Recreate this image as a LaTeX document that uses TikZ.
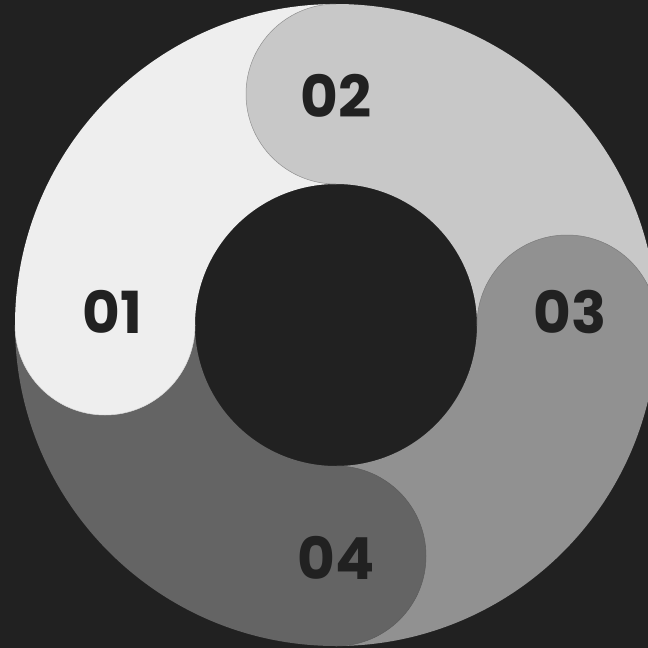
\documentclass[tikz,border=0pt]{standalone}
\usepackage{fontspec}
\setmainfont{Poppins}
\definecolor{bg}{HTML}{212121}
\definecolor{cA}{HTML}{EEEEEE}
\definecolor{cB}{HTML}{C8C8C8}
\definecolor{cC}{HTML}{919191}
\definecolor{cD}{HTML}{646464}
\tikzset{
  ringpart/.style={even odd rule},
  capedge/.style={line width=0.5pt},
  numlabel/.style={text=bg, font=\bfseries\fontsize{58}{58}\selectfont, inner sep=0pt, anchor=center}
}
\begin{document}
\begin{tikzpicture}[x=1pt,y=-1pt]
\useasboundingbox (0,0) rectangle (648,648);
\fill[bg] (0,0) rectangle (648,648);
\coordinate (c) at (336,325);
% quadrant bodies
\begin{scope}
\clip (0,0) rectangle (336,325);
\fill[cA, ringpart] (c) circle (321pt) (c) circle (141pt);
\end{scope}
\begin{scope}
\clip (336,0) rectangle (700,325);
\fill[cB, ringpart] (c) circle (321pt) (c) circle (141pt);
\end{scope}
\begin{scope}
\clip (336,325) rectangle (700,700);
\fill[cC, ringpart] (c) circle (321pt) (c) circle (141pt);
\end{scope}
\begin{scope}
\clip (0,325) rectangle (336,700);
\fill[cD, ringpart] (c) circle (321pt) (c) circle (141pt);
\end{scope}
% rounded caps
\fill[cA] (105,325) circle (90pt);
\fill[cB] (336,94) circle (90pt);
\fill[cC] (567,325) circle (90pt);
\fill[cD] (336,556) circle (90pt);
% cap edges, only where they overlap the neighbouring segment
\begin{scope}
\clip (0,325) rectangle (336,700);
\draw[capedge, cA!92!black] (105,325) circle (90pt);
\end{scope}
\begin{scope}
\clip (0,0) rectangle (336,325);
\draw[capedge, cB!72!black] (336,94) circle (90pt);
\end{scope}
\begin{scope}
\clip (336,0) rectangle (700,325);
\draw[capedge, cC!85!black] (567,325) circle (90pt);
\end{scope}
\begin{scope}
\clip (336,325) rectangle (700,700);
\draw[capedge, cD!92!black] (336,556) circle (90pt);
\end{scope}
% labels
\node[numlabel] (n1) at (112,312) {01};
\node[numlabel] (n2) at (336,96) {02};
\node[numlabel] (n3) at (570,312) {03};
\node[numlabel] (n4) at (336,558) {04};
\end{tikzpicture}
\end{document}
